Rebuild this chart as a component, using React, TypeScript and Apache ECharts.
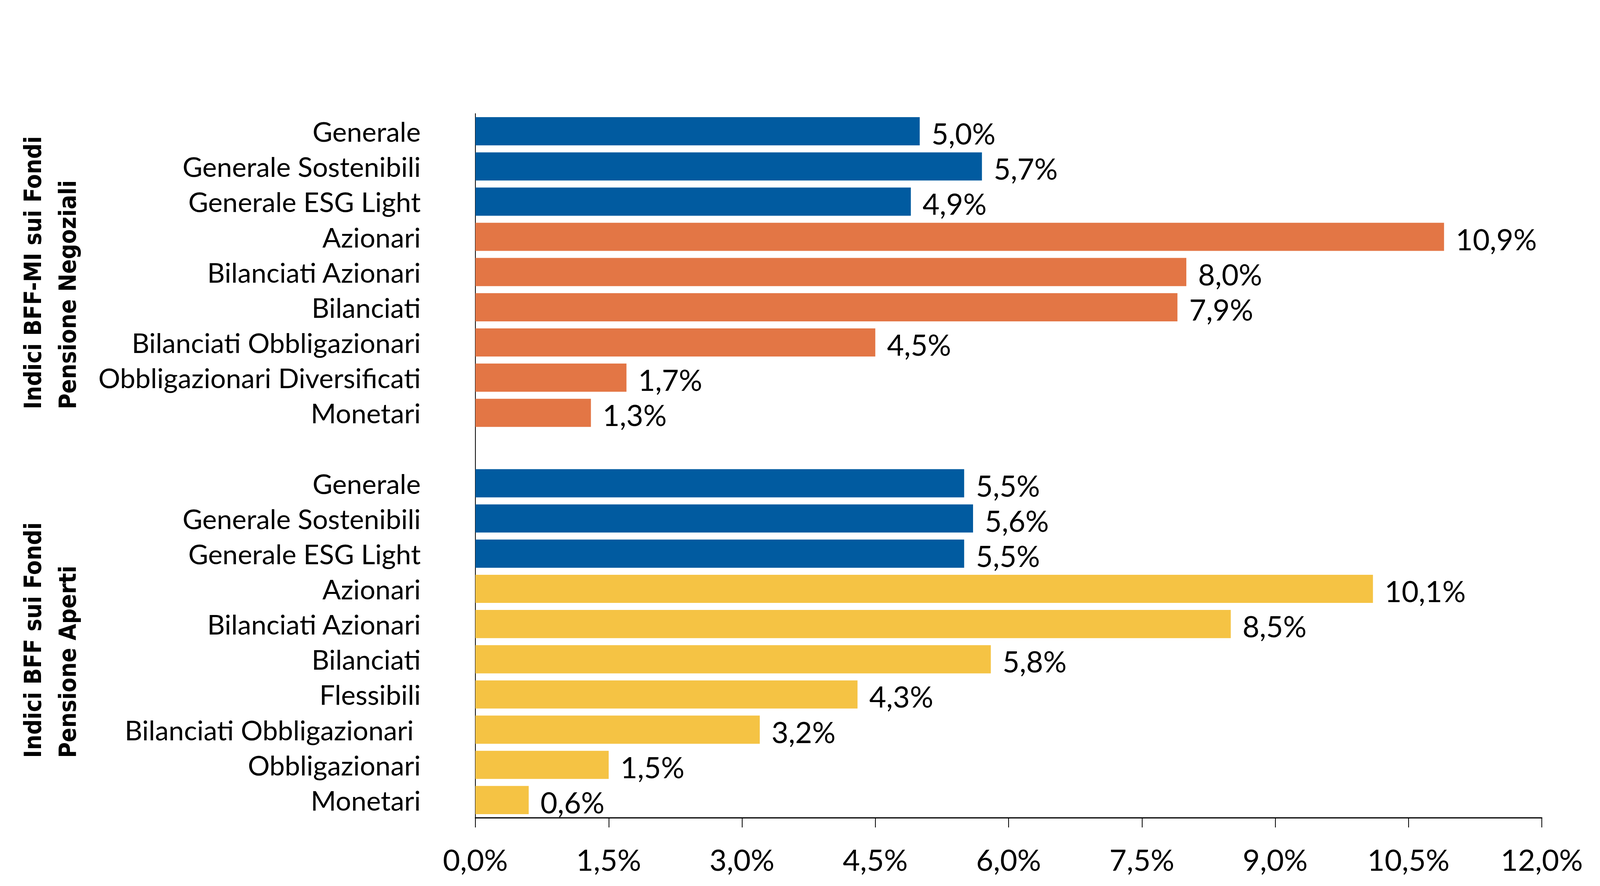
import React, { useEffect, useRef } from "react";
import * as echarts from "echarts";

const categories = [
  "Generale",
  "Generale Sostenibili",
  "Generale ESG Light",
  "Azionari",
  "Bilanciati Azionari",
  "Bilanciati",
  "Bilanciati Obbligazionari",
  "Obbligazionari Diversificati",
  "Monetari",
  "",
  "Generale",
  "Generale Sostenibili",
  "Generale ESG Light",
  "Azionari",
  "Bilanciati Azionari",
  "Bilanciati",
  "Flessibili",
  "Bilanciati Obbligazionari ",
  "Obbligazionari",
  "Monetari",
];

const negozialiValues = [5.0, 5.7, 4.9, 10.9, 8.0, 7.9, 4.5, 1.7, 1.3];
const apertiValues = [5.5, 5.6, 5.5, 10.1, 8.5, 5.8, 4.3, 3.2, 1.5, 0.6];

const BLUE = "#015BA0";
const ORANGE = "#E37645";
const YELLOW = "#F5C344";

const negozialiColors = [BLUE, BLUE, BLUE, ORANGE, ORANGE, ORANGE, ORANGE, ORANGE, ORANGE];
const apertiColors = [BLUE, BLUE, BLUE, YELLOW, YELLOW, YELLOW, YELLOW, YELLOW, YELLOW, YELLOW];

const groupTitles = [
  ["Indici BFF-MI sui Fondi", "Pensione Negoziali"],
  ["Indici BFF sui Fondi", "Pensione Aperti"],
];

const LABEL_FONT = "Lato, 'Noto Sans', sans-serif";
const TITLE_FONT = "'DejaVu Sans Condensed', 'DejaVu Sans', sans-serif";

const fmt = (v: number) => v.toFixed(1).replace(".", ",") + "%";

export default function App() {
  const ref = useRef<HTMLDivElement>(null);

  useEffect(() => {
    if (!ref.current) return;
    const chart = echarts.init(ref.current, undefined, { renderer: "svg" });

    const data: any[] = [];
    negozialiValues.forEach((v, i) =>
      data.push({ value: v, itemStyle: { color: negozialiColors[i] } })
    );
    data.push({ value: null });
    apertiValues.forEach((v, i) =>
      data.push({ value: v, itemStyle: { color: apertiColors[i] } })
    );

    const titleStyle = (text: string) => ({
      text,
      fontSize: 61,
      fontWeight: "bold",
      fontFamily: TITLE_FONT,
      fill: "#000",
      align: "left",
      verticalAlign: "middle",
      textAlign: "left",
      textVerticalAlign: "middle",
    });

    chart.setOption({
      animation: false,
      backgroundColor: "#fff",
      grid: { left: 1217, right: 170, top: 291, bottom: 175, containLabel: false },
      xAxis: {
        type: "value",
        min: 0,
        max: 12,
        interval: 1.5,
        axisLine: { show: true, lineStyle: { color: "#000", width: 3 } },
        axisTick: { show: true, length: 25, lineStyle: { color: "#000", width: 2 } },
        splitLine: { show: false },
        axisLabel: {
          formatter: (v: number) => fmt(v),
          fontSize: 76,
          fontFamily: LABEL_FONT,
          color: "#000",
          margin: 68,
        },
      },
      yAxis: {
        type: "category",
        inverse: true,
        data: categories,
        axisLine: { show: true, lineStyle: { color: "#000", width: 2 } },
        axisTick: { show: false },
        axisLabel: {
          fontSize: 70,
          fontFamily: LABEL_FONT,
          color: "#000",
          margin: 140,
          interval: 0,
        },
      },
      series: [
        {
          type: "bar",
          data,
          barCategoryGap: "20%",
          label: {
            show: true,
            position: "right",
            distance: 30,
            offset: [0, 5],
            fontSize: 75,
            fontFamily: LABEL_FONT,
            color: "#000",
            formatter: (p: any) => (p.value == null ? "" : fmt(p.value)),
          },
        },
      ],
      graphic: [
        { type: "text", x: 83, y: 1048, rotation: Math.PI / 2, style: titleStyle(groupTitles[0][0]) },
        { type: "text", x: 172, y: 1048, rotation: Math.PI / 2, style: titleStyle(groupTitles[0][1]) },
        { type: "text", x: 83, y: 1941, rotation: Math.PI / 2, style: titleStyle(groupTitles[1][0]) },
        { type: "text", x: 172, y: 1941, rotation: Math.PI / 2, style: titleStyle(groupTitles[1][1]) },
      ],
    });

    return () => chart.dispose();
  }, []);

  return (
    <div
      ref={ref}
      style={{ position: "absolute", left: 0, top: 0, width: 4117, height: 2269, background: "#fff" }}
    />
  );
}
